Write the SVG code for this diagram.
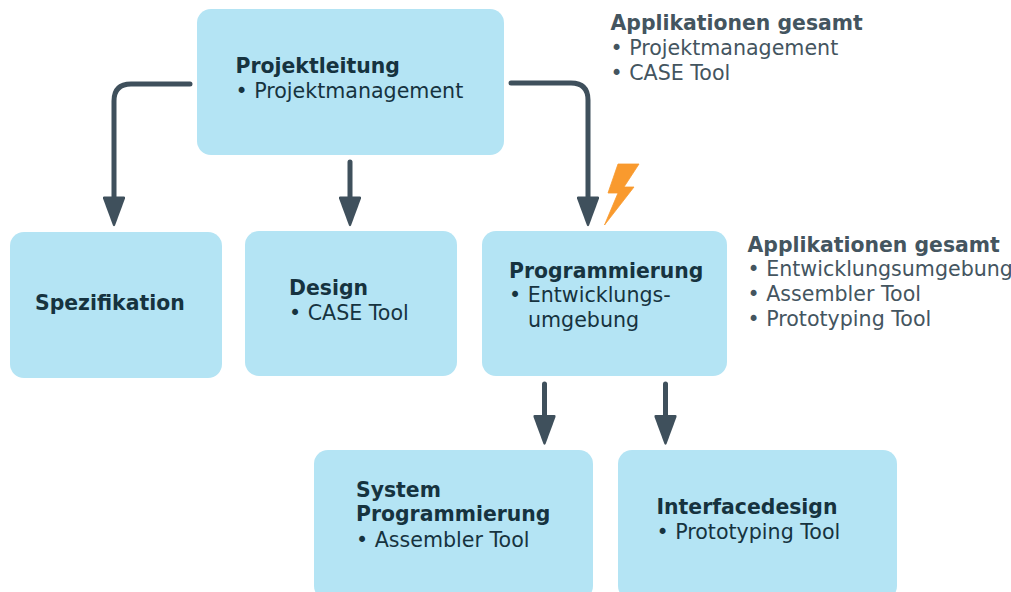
<svg xmlns="http://www.w3.org/2000/svg" width="1011" height="592" viewBox="0 0 1011 592">
<defs>
<path id="head" d="M-10 0H10Q11.500 0 11 2L1 29Q0 30.500 -1 29L-11 2Q-11.500 0 -10 0Z" fill="#3f505c"/>
</defs>
<style>
.box{fill:#b4e4f4}
text{font-family:"DejaVu Sans",Verdana,sans-serif;font-size:20.6px;fill:#16333f}
.b{font-weight:bold;font-size:20.4px}
.g{fill:#44555f}
.c{fill:none;stroke:#3f505c;stroke-width:5;stroke-linejoin:round;stroke-linecap:round}
</style>
<rect width="1011" height="592" fill="#fff"/>
<g id="connectors">
<path class="c" d="M190 84H131Q114 84 114 101V200"/>
<path class="c" d="M350 162V200"/>
<path class="c" d="M511 83H571Q588 83 588 100V200"/>
<path class="c" d="M544.500 384V418"/>
<path class="c" d="M665.500 384V418"/>
<use href="#head" x="114" y="196.500"/>
<use href="#head" x="350" y="196.500"/>
<use href="#head" x="588" y="196.500"/>
<use href="#head" x="544.500" y="415"/>
<use href="#head" x="665.500" y="415"/>
</g>
<g id="projektleitung"><rect class="box" x="197" y="9" width="307" height="146" rx="14"/><text class="b" x="235.500" y="73">Projektleitung</text><text x="235.500" y="98">• Projektmanagement</text></g>
<g id="spezifikation"><rect class="box" x="10" y="232" width="212" height="146" rx="14"/><text class="b" x="35" y="310">Spezifikation</text></g>
<g id="design"><rect class="box" x="245" y="231" width="212" height="145" rx="14"/><text class="b" x="289" y="295">Design</text><text x="289" y="320">• CASE Tool</text></g>
<g id="programmierung"><rect class="box" x="482" y="231" width="245" height="145" rx="14"/><text class="b" x="509" y="278">Programmierung</text><text x="509" y="302">• Entwicklungs-</text><text x="528" y="327">umgebung</text></g>
<g id="system"><rect class="box" x="314" y="450" width="279" height="150" rx="14"/><text class="b" x="356" y="496.500">System</text><text class="b" x="356" y="521">Programmierung</text><text x="356" y="546.500">• Assembler Tool</text></g>
<g id="interfacedesign"><rect class="box" x="618" y="450" width="279" height="150" rx="14"/><text class="b" x="656.500" y="514">Interfacedesign</text><text x="656.500" y="538.500">• Prototyping Tool</text></g>
<g id="bolt"><path d="M618 164H639L624 187H634L604.500 225L618 193H608Z" fill="#f99a2e" stroke="#f99a2e" stroke-width="0.800" stroke-linejoin="round"/></g>
<g id="apps1"><text class="b g" x="610.500" y="30">Applikationen gesamt</text><text class="g" x="610.500" y="55">• Projektmanagement</text><text class="g" x="610.500" y="79.500">• CASE Tool</text></g>
<g id="apps2"><text class="b g" x="747.500" y="252">Applikationen gesamt</text><text class="g" x="747.500" y="276">• Entwicklungsumgebung</text><text class="g" x="747.500" y="300.500">• Assembler Tool</text><text class="g" x="747.500" y="325.500">• Prototyping Tool</text></g>
</svg>
